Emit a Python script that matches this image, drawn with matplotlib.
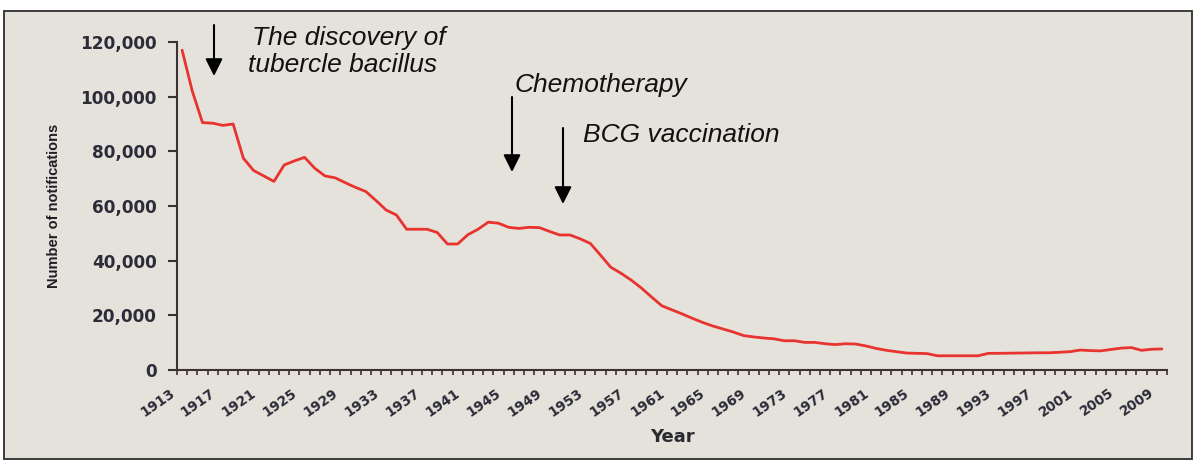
import numpy as np
import matplotlib
matplotlib.use("Agg")
import matplotlib.pyplot as plt
from matplotlib.patches import Rectangle
from matplotlib.transforms import ScaledTranslation

# ---------------- data ----------------
years = list(range(1913, 2010))
notifications = [
    117000, 102000, 90500, 90300, 89500, 90000, 77500, 73000, 71000, 69000,   # 1913-1922
    75000, 76500, 77800, 73800, 71000, 70300, 68500, 66800, 65300, 62000,     # 1923-1932
    58500, 56700, 51500, 51500, 51500, 50300, 46100, 46100, 49500, 51500,     # 1933-1942
    54100, 53700, 52200, 51800, 52200, 52100, 50700, 49400, 49400, 48000,     # 1943-1952
    46300, 42000, 37600, 35400, 32900, 30000, 26700, 23500, 22000, 20500,     # 1953-1962
    18900, 17400, 16100, 15000, 13900, 12600, 12100, 11700, 11400, 10700,     # 1963-1972
    10700, 10100, 10100, 9600, 9300, 9600, 9500, 8800, 7900, 7200,            # 1973-1982
    6700, 6200, 6100, 6000, 5200, 5200, 5200, 5200, 5200, 6100,               # 1983-1992
    6100, 6150, 6200, 6250, 6300, 6300, 6500, 6700, 7300, 7100,               # 1993-2002
    7000, 7500, 8000, 8200, 7200, 7600, 7700,                                 # 2003-2009
]
tick_years = years[::4]
y_ticks = [0, 20000, 40000, 60000, 80000, 100000, 120000]
y_tick_labels = ["0", "20,000", "40,000", "60,000", "80,000", "100,000", "120,000"]

# ---------------- figure ----------------
W, H = 1194, 461
fig = plt.figure(figsize=(W / 100, H / 100), dpi=100, facecolor="white")
fig.patches.append(Rectangle((4 / W, 2 / H), 1188 / W, 448 / H,
                             transform=fig.transFigure, facecolor="#e5e2dc",
                             edgecolor="#2e2e2e", lw=1.3, zorder=-10))

ax = fig.add_axes([177 / W, 91 / H, 990 / W, 328 / H])
ax.set_facecolor("none")

idx = np.arange(len(years))
ax.plot(idx, notifications, color="#e8332e", lw=2.0, solid_joinstyle="round",
        solid_capstyle="round")

ax.set_xlim(-0.5, len(years) - 0.5)
ax.set_ylim(0, 120000)

for s in ["top", "right"]:
    ax.spines[s].set_visible(False)
for s in ["left", "bottom"]:
    ax.spines[s].set_color("#3a3232")
    ax.spines[s].set_linewidth(1.5)

tick_color = "#2c2c38"
ax.set_yticks(y_ticks)
ax.set_yticklabels(y_tick_labels, fontsize=12.2, fontweight="bold",
                   family="DejaVu Sans", color=tick_color)
ax.tick_params(axis="y", direction="out", length=6.5, width=1.5,
               color="#3a3232", pad=8)

ax.set_xticks([years.index(y) for y in tick_years])
ax.set_xticklabels([str(y) for y in tick_years], rotation=35, ha="right",
                   va="center", rotation_mode="anchor", fontsize=9.8,
                   fontweight="bold", family="DejaVu Sans", color=tick_color)
ax.tick_params(axis="x", which="major", length=0, pad=15.5)
ax.set_xticks(np.arange(-0.5, len(years), 1), minor=True)
ax.tick_params(axis="x", which="minor", direction="out", length=3.5,
               width=1.2, color="#3a3232")
shift = ScaledTranslation(-9 / 100, 0, fig.dpi_scale_trans)
for lab in ax.xaxis.get_majorticklabels():
    lab.set_transform(lab.get_transform() + shift)

ax.set_xlabel("Year", fontsize=13, fontweight="bold", family="DejaVu Sans",
              color="#2a2a30", va="center")
ax.xaxis.set_label_coords(0.5, (370 - 437) / 328)

ax.set_ylabel("Number of notifications", fontsize=10.5, fontweight="bold",
              family="Liberation Sans", color="#1e1e24", va="center")
ax.yaxis.set_label_coords((54 - 177) / 990, 0.5)

# ---------------- annotations ----------------
def px_to_val(py):
    return (370 - py) / 328 * 120000

def px_to_idx(px):
    return (px - 177) / 990 * len(years) - 0.5

arrow_kw = dict(arrowstyle="-|>", lw=1.5, color="black", mutation_scale=26,
                shrinkA=0, shrinkB=0)
for x_px, y0, y1 in [(214, 25, 76), (512, 97, 172), (563, 128, 204)]:
    ax.annotate("", xy=(px_to_idx(x_px), px_to_val(y1)),
                xytext=(px_to_idx(x_px), px_to_val(y0)),
                arrowprops=arrow_kw, annotation_clip=False)

txt_kw = dict(fontsize=19, style="italic", family="Liberation Sans",
              color="#111111", ha="left", va="baseline", clip_on=False)
ax.text(px_to_idx(252), px_to_val(45), "The discovery of", **txt_kw)
ax.text(px_to_idx(248), px_to_val(72), "tubercle bacillus", **txt_kw)
ax.text(px_to_idx(515), px_to_val(92), "Chemotherapy", **txt_kw)
ax.text(px_to_idx(583), px_to_val(142), "BCG vaccination", **txt_kw)

fig.savefig("out.png", dpi=100, facecolor=fig.get_facecolor())
